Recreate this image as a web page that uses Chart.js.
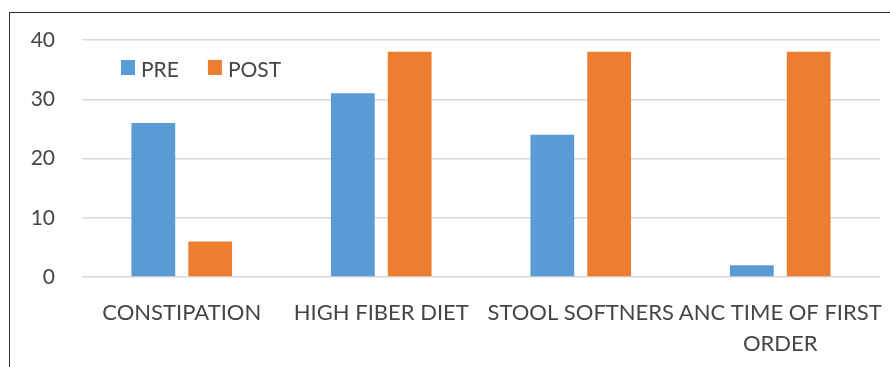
<!DOCTYPE html>
<html>
<head>
<meta charset="utf-8">
<script src="https://cdn.jsdelivr.net/npm/chart.js@4"></script>
<style>
  html, body { margin: 0; padding: 0; background: #fff; overflow: hidden; }
  #frame {
    position: absolute; left: 9px; top: 12px; width: 900px; height: 380px;
    border-left: 1.5px solid #333; border-top: 1.5px solid #333;
  }
  #wrap { position: absolute; left: 0; top: 0; width: 890px; height: 367px; }
</style>
</head>
<body>
<div id="frame"></div>
<div id="wrap"><canvas id="c" width="890" height="367"></canvas></div>
<script>
const categories = ['CONSTIPATION', 'HIGH FIBER DIET', 'STOOL SOFTNERS', ['ANC TIME OF FIRST', 'ORDER']];
const preValues = [26, 31, 24, 2];
const postValues = [6, 38, 38, 38];
const yTicks = [0, 10, 20, 30, 40];

const FONT = 'Lato, "Open Sans", sans-serif';
const TEXT = '#454545';

// Legend drawn inside the plot area, top-left
const insideLegend = {
  id: 'insideLegend',
  afterDraw(chart) {
    const ctx = chart.ctx;
    const area = chart.chartArea;
    ctx.save();
    ctx.font = '21px ' + FONT;
    ctx.textBaseline = 'middle';
    let x = area.left + 39;
    const y = area.top + 28;
    chart.data.datasets.forEach(ds => {
      ctx.fillStyle = ds.backgroundColor;
      ctx.fillRect(x, y - 8, 14, 15);
      ctx.fillStyle = TEXT;
      ctx.fillText(ds.label, x + 20, y + 2);
      x += 20 + ctx.measureText(ds.label).width + 29;
    });
    ctx.restore();
  }
};

new Chart(document.getElementById('c'), {
  type: 'bar',
  data: {
    labels: categories,
    datasets: [
      { label: 'PRE', data: preValues, backgroundColor: '#5B9BD5' },
      { label: 'POST', data: postValues, backgroundColor: '#ED7D31' }
    ]
  },
  options: {
    responsive: false,
    animation: false,
    layout: { padding: { left: 0, right: 10, top: 40, bottom: 0 } },
    datasets: { bar: { categoryPercentage: 0.57, barPercentage: 0.77 } },
    plugins: { legend: { display: false }, tooltip: { enabled: false } },
    scales: {
      x: {
        grid: { display: false, drawTicks: false },
        border: { display: false },
        ticks: {
          color: TEXT, font: { family: FONT, size: 22, lineHeight: 1.4 },
          padding: 21, maxRotation: 0, autoSkip: false
        },
        afterFit(scale) {
          scale.height = 90;
          // let the outer labels run past the plot edges
          scale.paddingLeft = 0;
          scale.paddingRight = 0;
        }
      },
      y: {
        min: 0, max: 40,
        afterBuildTicks(scale) { scale.ticks = yTicks.map(v => ({ value: v })); },
        grid: { color: '#d9d9d9', lineWidth: 1.5, drawTicks: false },
        border: { display: false },
        ticks: { color: TEXT, font: { family: FONT, size: 21 }, padding: 27 },
        afterFit(scale) { scale.width = 82; }
      }
    }
  },
  plugins: [insideLegend]
});
</script>
</body>
</html>
